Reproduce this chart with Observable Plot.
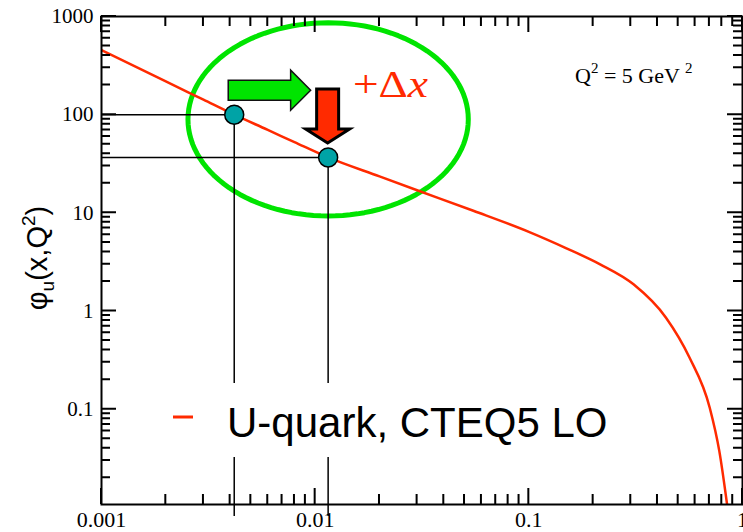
<!DOCTYPE html>
<html><head><meta charset="utf-8">
<script src="https://cdn.jsdelivr.net/npm/d3@7"></script>
<script src="https://cdn.jsdelivr.net/npm/@observablehq/plot@0.6"></script>
<style>html,body{margin:0;padding:0;background:#fff;} svg{display:block}</style>
</head><body><div id="chart"></div>
<script>
// ---- data ----
const curveX = [0.001, 0.002, 0.003, 0.00418, 0.006, 0.008, 0.0115, 0.02, 0.03, 0.055, 0.1, 0.15, 0.2156, 0.309, 0.4385, 0.5655, 0.703, 0.779, 0.849];
const curveY = [454, 218, 142, 100, 70, 52.5, 36.7, 23.5, 17.0, 10.5, 6.4, 4.35, 2.99, 1.87, 0.855, 0.334, 0.103, 0.0374, 0.0103];
const pointX = [0.00418, 0.0115];
const pointY = [100, 36.7];
const xDomain = [0.001, 1];
const yDomain = [0.0107, 1000];
const xMajor = [0.001, 0.01, 0.1, 1];
const xLabels = ["0.001", "0.01", "0.1", "1"];
const yMajor = [0.1, 1, 10, 100, 1000];
const yLabels = ["0.1", "1", "10", "100", "1000"];
const ellipseCenter = {x: 0.0115, y: 89.6, rxDecades: 0.656, ryDecades: 0.984};
const legendLabel = "U-quark, CTEQ5 LO";

// ---- styles ----
const W = 743, H = 532;
const mL = 101, mR = 1, mT = 16, mB = 28;
const RED = "#ff2a00", GREEN = "#00e400", TEAL = "#00a3a6";

const curve = curveX.map((x, i) => ({x, y: curveY[i]}));
const pts = pointX.map((x, i) => ({x, y: pointY[i]}));
const isMajor = v => Math.abs(Math.log10(v) - Math.round(Math.log10(v))) < 1e-9;
const yMinor = d3.scaleLog().domain([0.01, 1000]).ticks().filter(v => v > yDomain[0] && !isMajor(v));
const xMinor = d3.scaleLog().domain(xDomain).ticks().filter(v => !isMajor(v));

const ell = d3.range(0, 121).map(k => {
  const t = 2 * Math.PI * k / 120;
  return {
    x: Math.pow(10, Math.log10(ellipseCenter.x) + ellipseCenter.rxDecades * Math.cos(t)),
    y: Math.pow(10, Math.log10(ellipseCenter.y) + ellipseCenter.ryDecades * Math.sin(t))
  };
});

const chart = Plot.plot({
  width: W, height: H,
  marginLeft: mL, marginRight: mR, marginTop: mT, marginBottom: mB,
  x: {type: "log", domain: xDomain},
  y: {type: "log", domain: yDomain},
  style: {fontFamily: "'Liberation Serif', 'Times New Roman', serif", fontSize: "21px", background: "white", color: "black", overflow: "visible"},
  marks: [
    Plot.line(ell, {x: "x", y: "y", stroke: GREEN, strokeWidth: 5}),
    Plot.ruleY(pts, {y: "y", x1: () => xDomain[0], x2: "x", stroke: "black", strokeWidth: 1.5}),
    Plot.ruleX(pts, {x: "x", y1: "y", y2: () => yDomain[0], insetBottom: -12, stroke: "black", strokeWidth: 1.5}),
    Plot.line(curve, {x: "x", y: "y", stroke: RED, strokeWidth: 2.5, curve: "monotone-x", clip: true}),
    Plot.dot(pts, {x: "x", y: "y", r: 9.5, fill: TEAL, stroke: "black", strokeWidth: 1.5}),
    Plot.frame({stroke: "black", strokeWidth: 2}),
    Plot.axisY({ticks: yMajor, tickFormat: d => yLabels[yMajor.indexOf(d)], tickSize: 0, tickPadding: 8, fontSize: 21, label: null}),
    Plot.axisX({ticks: xMajor, tickFormat: d => xLabels[xMajor.indexOf(d)], tickSize: 0, tickPadding: 7, fontSize: 22, label: null})
  ]
});
document.getElementById("chart").appendChild(chart);

const svg = d3.select(chart);
const sxs = chart.scale("x"), sys = chart.scale("y");
const sx = v => sxs.apply(v), sy = v => sys.apply(v);
const L = mL, R = W - mR, T = mT, B = H - mB;

// inward ticks on all four sides, positioned by the plot's scales (one path)
let tickD = "";
yMajor.forEach(v => { const y = sy(v); tickD += `M${L},${y}h15M${R},${y}h-15`; });
yMinor.forEach(v => { const y = sy(v); tickD += `M${L},${y}h9M${R},${y}h-9`; });
xMajor.forEach(v => { const x = sx(v); tickD += `M${x},${B}v-16M${x},${T}v16`; });
xMinor.forEach(v => { const x = sx(v); tickD += `M${x},${B}v-10M${x},${T}v10`; });
svg.append("path").attr("d", tickD).attr("fill", "none").attr("stroke", "black").attr("stroke-width", 2);

const cx1 = sx(pointX[0]), cy1 = sy(pointY[0]);
const cx2 = sx(pointX[1]), cy2 = sy(pointY[1]);

// green arrow (shift in x)
const ay = cy1 - 24, gx0 = cx1 - 5.5, ghx = cx2 - 37, gtip = cx2 - 17;
svg.append("path")
  .attr("d", `M${gx0},${ay-10}L${ghx},${ay-10}L${ghx},${ay-20}L${gtip},${ay}L${ghx},${ay+20}L${ghx},${ay+10}L${gx0},${ay+10}Z`)
  .attr("fill", GREEN).attr("stroke", "#111").attr("stroke-width", 1.5);
// red arrow (down)
const rTip = cy2 - 14, rHead = rTip - 14, rTop = rTip - 54;
svg.append("path")
  .attr("d", `M${cx2-11},${rTop}L${cx2+11},${rTop}L${cx2+11},${rHead}L${cx2+22},${rHead}L${cx2},${rTip}L${cx2-22},${rHead}L${cx2-11},${rHead}Z`)
  .attr("fill", RED).attr("stroke", "black").attr("stroke-width", 3).attr("stroke-linejoin", "miter");

// +Δx
const dtxt = svg.append("text").attr("x", 353).attr("y", 97).attr("text-anchor", "start")
  .attr("font-family", "'Liberation Serif', serif").attr("font-size", 38).attr("fill", RED)
  .attr("textLength", 75).attr("lengthAdjust", "spacingAndGlyphs");
dtxt.append("tspan").text("+Δ");
dtxt.append("tspan").attr("font-style", "italic").text("x");

// Q^2 = 5 GeV^2
const qtxt = svg.append("text").attr("x", 575).attr("y", 83).attr("text-anchor", "start")
  .attr("font-family", "'Liberation Serif', serif").attr("font-size", 22).attr("fill", "black");
qtxt.append("tspan").text("Q");
qtxt.append("tspan").attr("font-size", 15).attr("dy", -10).text("2");
qtxt.append("tspan").attr("dy", 10).text(" = 5 GeV ");
qtxt.append("tspan").attr("font-size", 15).attr("dy", -10).text("2");

// legend with white backing
svg.append("rect").attr("x", 160).attr("y", 383).attr("width", 470).attr("height", 74).attr("fill", "white");
svg.append("line").attr("x1", 173).attr("x2", 193).attr("y1", 417).attr("y2", 417).attr("stroke", RED).attr("stroke-width", 3);
svg.append("text").attr("x", 227).attr("y", 437).attr("text-anchor", "start")
  .attr("font-family", "'Liberation Sans', Arial, sans-serif").attr("font-size", 42).attr("fill", "black")
  .text(legendLabel);

// y-axis label
const ylab = svg.append("text").attr("transform", "translate(47,258) rotate(-90)")
  .attr("text-anchor", "middle")
  .attr("font-family", "'Liberation Sans', Arial, sans-serif").attr("font-size", 29).attr("fill", "black");
ylab.append("tspan").text("φ");
ylab.append("tspan").attr("font-size", 19).attr("dy", 7).text("u");
ylab.append("tspan").attr("dy", -7).text("(x,Q");
ylab.append("tspan").attr("font-size", 19).attr("dy", -12).text("2");
ylab.append("tspan").attr("dy", 12).text(")");
</script>
</body></html>
